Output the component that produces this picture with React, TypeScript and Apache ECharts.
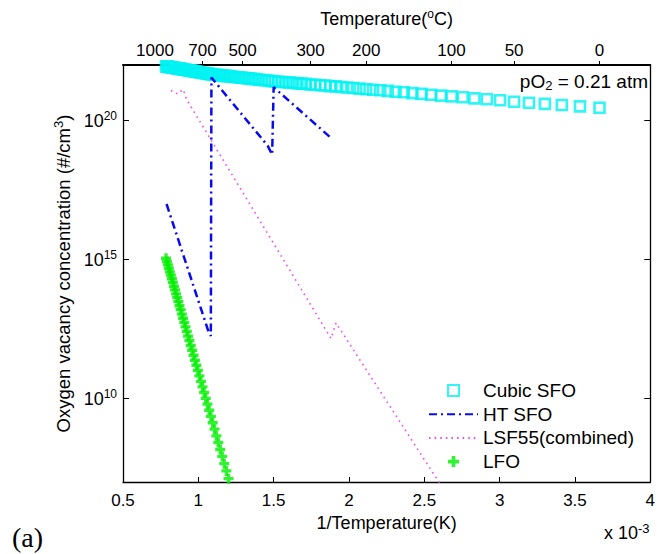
import React, { useEffect, useRef } from 'react';
import * as echarts from 'echarts';

// Cubic SFO: temperature (°C) of each marker and log10 of concentration (#/cm^3)
const cubicTempC = [
  1000, 990, 980, 970, 960, 950, 940, 930, 920, 910,
  900, 890, 880, 870, 860, 850, 840, 830, 820, 810,
  800, 790, 780, 770, 760, 750, 740, 730, 720, 710,
  700, 690, 680, 670, 660, 650, 640, 630, 620, 610,
  600, 590, 580, 570, 560, 550, 540, 530, 520, 510,
  500, 490, 480, 470, 460, 450, 440, 430, 420, 410,
  400, 390, 380, 370, 360, 350, 340, 330, 320, 310,
  300, 290, 280, 270, 260, 250, 240, 230, 220, 210,
  200, 190, 180, 170, 160, 150, 140, 130, 120, 110,
  100, 90, 80, 70, 60, 50, 40, 30, 20, 10,
  0,
];
const cubicLogConc = [
  21.95, 21.94, 21.94, 21.93, 21.93, 21.92, 21.91, 21.91, 21.9, 21.89,
  21.89, 21.88, 21.87, 21.87, 21.86, 21.85, 21.84, 21.84, 21.83, 21.82,
  21.81, 21.8, 21.8, 21.79, 21.78, 21.77, 21.76, 21.75, 21.74, 21.73,
  21.72, 21.71, 21.7, 21.69, 21.68, 21.67, 21.66, 21.65, 21.65, 21.64,
  21.63, 21.62, 21.61, 21.61, 21.6, 21.59, 21.58, 21.57, 21.56, 21.55,
  21.54, 21.53, 21.52, 21.51, 21.5, 21.49, 21.47, 21.46, 21.45, 21.44,
  21.42, 21.41, 21.4, 21.39, 21.38, 21.37, 21.36, 21.34, 21.33, 21.32,
  21.3, 21.29, 21.27, 21.26, 21.24, 21.23, 21.21, 21.19, 21.17, 21.15,
  21.13, 21.11, 21.09, 21.07, 21.04, 21.02, 20.99, 20.96, 20.93, 20.9,
  20.87, 20.84, 20.8, 20.77, 20.73, 20.68, 20.64, 20.6, 20.56, 20.51,
  20.46,
];

// LFO
const lfoTempC = [
  1000, 990, 980, 970, 960, 950, 940, 930, 920, 910,
  900, 890, 880, 870, 860, 850, 840, 830, 820, 810,
  800, 790, 780, 770, 760, 750, 740, 730, 720, 710,
  700, 690, 680, 670, 660, 650, 640, 630, 620, 610,
  600, 590, 580, 570, 560, 550,
];
const lfoLogConc = [
  15.05, 14.93, 14.81, 14.69, 14.56, 14.44, 14.31, 14.18, 14.04, 13.91,
  13.77, 13.63, 13.49, 13.34, 13.2, 13.04, 12.89, 12.74, 12.58, 12.42,
  12.25, 12.09, 11.91, 11.74, 11.56, 11.38, 11.2, 11.01, 10.82, 10.62,
  10.42, 10.22, 10.01, 9.8, 9.58, 9.36, 9.13, 8.9, 8.66, 8.42,
  8.17, 7.92, 7.66, 7.4, 7.12, 6.85,
];

// HT SFO (1/T in 1e-3 K^-1, log10 concentration)
const htInvT = [0.789, 1.065, 1.083, 1.087, 1.46, 1.49, 1.5, 1.88];
const htLogConc = [17.0, 12.45, 12.25, 21.55, 19.1, 18.78, 21.2, 19.38];

// LSF55 (combined)
const lsfInvT = [0.818, 0.862, 0.899, 0.922, 1.881, 1.914, 2.6];
const lsfLogConc = [21.08, 20.96, 21.12, 20.76, 12.16, 12.72, 6.97];

// Axis ticks
const topTempTicks = [1000, 700, 500, 300, 200, 100, 50, 0];
const yTickValues = [1e10, 1e15, 1e20];

const FONT = '"Liberation Sans", Arial, Helvetica, sans-serif';

const toInvT = (tC: number) => 1000 / (tC + 273);

export default function App() {
  const ref = useRef<HTMLDivElement>(null);

  useEffect(() => {
    if (!ref.current) return;
    const chart = echarts.init(ref.current, undefined, { renderer: 'svg' });

    const cubicData = cubicTempC.map((t, i) => [toInvT(t), Math.pow(10, cubicLogConc[i])]);
    const lfoData = lfoTempC.map((t, i) => [toInvT(t), Math.pow(10, lfoLogConc[i])]);
    const htData = htInvT.map((x, i) => [x, Math.pow(10, htLogConc[i])]);
    const lsfData = lsfInvT.map((x, i) => [x, Math.pow(10, lsfLogConc[i])]);
    const topTickVals = topTempTicks.map(toInvT);

    const black = '#000';
    const axisLine = { show: true, onZero: false, lineStyle: { color: black, width: 1.3 } };
    const supRich = { fontSize: 12, fontFamily: FONT, color: black, padding: [0, 0, 9, 0] };

    const plusPath = 'path://M3,0H6V3H9V6H6V9H3V6H0V3H3Z';
    const squarePath = 'path://M0,0H10V10H0Z';
    const hiddenSymbol = { color: 'rgba(0,0,0,0)', borderWidth: 0, opacity: 0 };

    chart.setOption({
      animation: false,
      backgroundColor: '#fff',
      grid: { left: 123, right: 6, top: 65, bottom: 72, containLabel: false },
      xAxis: [
        {
          type: 'value',
          min: 0.5,
          max: 4,
          interval: 0.5,
          position: 'bottom',
          axisLine,
          axisTick: { show: true, inside: true, length: 5, lineStyle: { color: black, width: 1 } },
          axisLabel: { color: black, fontSize: 17, fontFamily: FONT, margin: 10 },
          splitLine: { show: false },
          name: '1/Temperature(K)',
          nameLocation: 'middle',
          nameGap: 32,
          nameTextStyle: { color: black, fontSize: 18, fontFamily: FONT },
        },
        {
          type: 'value',
          min: 0.5,
          max: 4,
          position: 'top',
          axisLine: { show: true, onZero: false, lineStyle: { color: black, width: 2 } },
          axisTick: {
            show: true,
            inside: false,
            length: 4,
            customValues: topTickVals,
            lineStyle: { color: black, width: 1 },
          },
          axisLabel: {
            color: black,
            fontSize: 17,
            fontFamily: FONT,
            margin: 6,
            customValues: topTickVals,
            formatter: (v: number) => {
              const t = Math.round(1000 / v - 273);
              return t === 1000 ? '{l|1000}' : String(t);
            },
            rich: {
              l: { fontSize: 17, fontFamily: FONT, color: black, padding: [0, 22, 0, 0] },
            },
          },
          splitLine: { show: false },
          name: 'Temperature({sup|o}C)',
          nameLocation: 'middle',
          nameGap: 36,
          nameTextStyle: {
            color: black,
            fontSize: 18,
            fontFamily: FONT,
            rich: { sup: { fontSize: 12, fontFamily: FONT, color: black, padding: [0, 0, 9, 0] } },
          },
        },
      ],
      yAxis: [
        {
          type: 'log',
          logBase: 10,
          min: 1e7,
          max: 1e22,
          position: 'left',
          axisLine,
          axisTick: {
            show: true,
            inside: true,
            length: 6,
            customValues: yTickValues,
            lineStyle: { color: black, width: 1 },
          },
          axisLabel: {
            color: black,
            fontSize: 18,
            fontFamily: FONT,
            margin: 6,
            customValues: yTickValues,
            formatter: (v: number) => '10{sup|' + Math.round(Math.log10(v)) + '}',
            rich: { sup: supRich },
          },
          splitLine: { show: false },
          minorTick: { show: false },
          name: 'Oxygen vacancy concentration (#/cm{sup|3})',
          nameLocation: 'middle',
          nameRotate: 90,
          nameGap: 46,
          nameTextStyle: {
            color: black,
            fontSize: 18.5,
            fontFamily: FONT,
            rich: { sup: { fontSize: 13, fontFamily: FONT, color: black, padding: [0, 0, 9, 0] } },
          },
        },
        {
          type: 'log',
          logBase: 10,
          min: 1e7,
          max: 1e22,
          position: 'right',
          axisLine,
          axisTick: {
            show: true,
            inside: true,
            length: 6,
            customValues: yTickValues,
            lineStyle: { color: black, width: 1 },
          },
          axisLabel: { show: false },
          splitLine: { show: false },
        },
      ],
      legend: {
        orient: 'vertical',
        left: 428,
        top: 381,
        padding: 0,
        itemWidth: 49,
        itemHeight: 11,
        itemGap: 4.7,
        textStyle: { color: black, fontSize: 19, fontFamily: FONT, lineHeight: 19 },
        data: [
          { name: 'Cubic SFO', icon: squarePath },
          { name: 'HT SFO', itemStyle: hiddenSymbol },
          { name: 'LSF55(combined)', itemStyle: hiddenSymbol },
          { name: 'LFO', icon: plusPath },
        ],
      },
      graphic: [
        {
          type: 'text',
          x: 648,
          y: 81,
          style: {
            text: 'pO{sub|2} = 0.21 atm',
            fill: black,
            fontSize: 19,
            fontFamily: FONT,
            align: 'right',
            verticalAlign: 'middle',
            rich: { sub: { fontSize: 13, fontFamily: FONT, fill: black, padding: [9, 0, 0, 0] } },
          },
        },
        {
          type: 'text',
          x: 604,
          y: 533,
          style: {
            text: 'x 10{sup|-3}',
            fill: black,
            fontSize: 18,
            fontFamily: FONT,
            align: 'left',
            verticalAlign: 'middle',
            rich: { sup: { fontSize: 13, fontFamily: FONT, fill: black, padding: [0, 0, 10, 0] } },
          },
        },
        {
          type: 'text',
          x: 12,
          y: 537,
          style: {
            text: '(a)',
            fill: black,
            fontSize: 28,
            fontFamily: '"Liberation Serif", "Times New Roman", serif',
            align: 'left',
            verticalAlign: 'middle',
          },
        },
      ],
      series: [
        {
          name: 'Cubic SFO',
          type: 'scatter',
          xAxisIndex: 0,
          yAxisIndex: 0,
          symbol: 'rect',
          symbolSize: 10,
          itemStyle: { color: 'rgba(0,0,0,0)', borderColor: '#00f2f2', borderWidth: 2.6 },
          data: cubicData,
          z: 3,
        },
        {
          name: 'HT SFO',
          type: 'line',
          xAxisIndex: 0,
          yAxisIndex: 0,
          symbol: 'none',
          showSymbol: false,
          lineStyle: { color: '#0a0aee', width: 2.5, type: [8, 4, 2, 4] },
          itemStyle: { color: '#0a0aee' },
          data: htData,
          z: 4,
        },
        {
          name: 'LSF55(combined)',
          type: 'line',
          xAxisIndex: 0,
          yAxisIndex: 0,
          symbol: 'none',
          showSymbol: false,
          lineStyle: { color: '#f04cf0', width: 1.6, type: [1.6, 4] },
          itemStyle: { color: '#f04cf0' },
          data: lsfData,
          z: 4,
        },
        {
          name: 'LFO',
          type: 'scatter',
          xAxisIndex: 0,
          yAxisIndex: 0,
          symbol: plusPath,
          symbolSize: 10,
          itemStyle: { color: '#00ee00' },
          data: lfoData,
          z: 5,
        },
      ],
    });

    return () => chart.dispose();
  }, []);

  return (
    <div
      ref={ref}
      style={{ position: 'absolute', left: 0, top: 0, width: 658, height: 554, background: '#fff' }}
    />
  );
}
